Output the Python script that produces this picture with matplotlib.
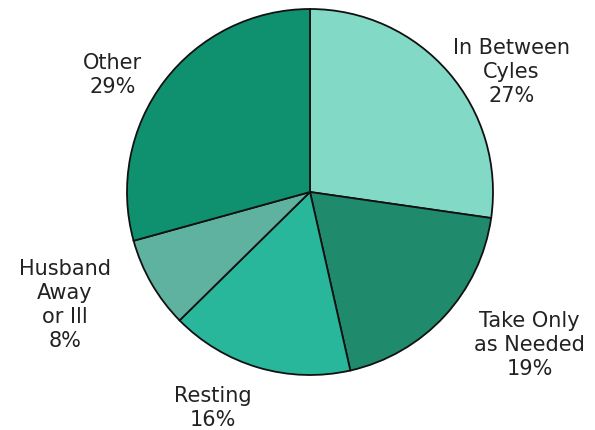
import matplotlib
matplotlib.use("Agg")
import matplotlib.pyplot as plt

labels = ["In Between\nCyles", "Take Only\nas Needed", "Resting", "Husband\nAway\nor Ill", "Other"]
shares = [27, 19, 16, 8, 29]
colors = ["#82d9c6", "#1f8a6c", "#29b79c", "#5fb2a0", "#0f9170"]
# label centres in pie units (radius = 1)
label_pos = [(1.10, 0.66), (1.20, -0.83), (-0.53, -1.175), (-1.34, -0.61), (-1.08, 0.645)]

SCALE = 183.0  # pixels per pie radius
fig = plt.figure(figsize=(5.95, 4.31), dpi=100)
ax = fig.add_axes([0, 0, 1, 1])

wedges, _ = ax.pie(shares, colors=colors, startangle=90, counterclock=False,
                   radius=1.0, center=(0, 0),
                   wedgeprops=dict(edgecolor="#111111", linewidth=1.3))

for lab, val, (x, y) in zip(labels, shares, label_pos):
    ax.text(x, y, f"{lab}\n{val}%", ha="center", va="center",
            fontsize=15, color="#222222", linespacing=1.25)

ax.set_xlim(-310 / SCALE, (595 - 310) / SCALE)
ax.set_ylim(-(431 - 193) / SCALE, 193 / SCALE)
ax.set_aspect("auto")
ax.axis("off")

fig.savefig("out.png", dpi=100, facecolor="white")
